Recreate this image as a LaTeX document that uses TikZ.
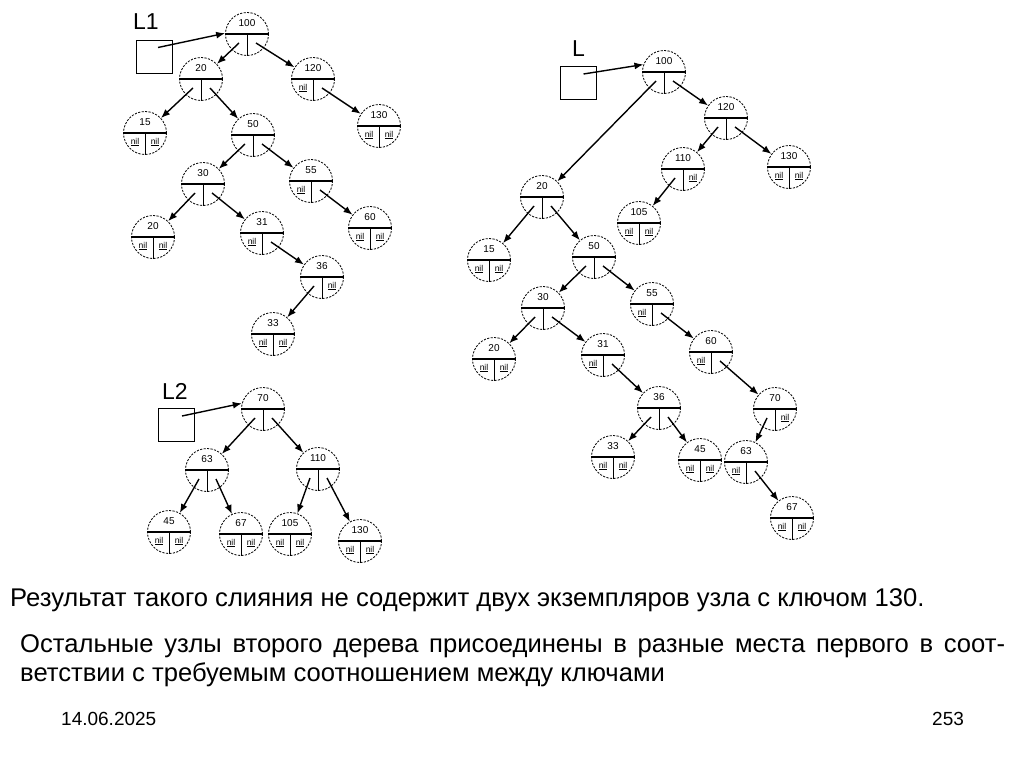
\documentclass[tikz,border=0pt]{standalone}
\usepackage{fontspec}
\setmainfont{Liberation Sans}
\usetikzlibrary{arrows.meta}
\tikzset{
  tnode/.style={circle,draw,dash pattern=on 2.2pt off 1.3pt,line width=0.8pt,minimum size=43pt,inner sep=0pt},
  divh/.style={line width=1.1pt},
  divv/.style={line width=0.9pt},
  keytxt/.style={font=\fontsize{10}{11}\selectfont,inner sep=0pt},
  niltxt/.style={font=\fontsize{8.5}{9}\selectfont,inner sep=0pt},
  link/.style={line width=1.4pt,-{Latex[length=9pt,width=7pt]}},
  ptrbox/.style={draw,line width=0.8pt,minimum width=36pt,minimum height=33pt,inner sep=0pt},
  lbl/.style={font=\fontsize{23}{24}\selectfont,inner sep=0pt,anchor=base west},
  bodytxt/.style={font=\fontsize{25.6}{29}\selectfont,anchor=base west,inner sep=0pt},
  foot/.style={font=\fontsize{19}{22}\selectfont,anchor=base west,inner sep=0pt},
}
\newcommand{\tn}[5]{%
  \node[tnode] (#1) at (#2) {};
  \draw[divh] (#1.west) -- (#1.east);
  \draw[divv] (#1.center) -- (#1.south);
  \node[keytxt] (#1-k) at ([yshift=10.5pt]#1.center) {#3};
  \ifnum#4=1 \node[niltxt] (#1-l) at ([shift={(-10,9)}]#1.center) {\underline{nil}};\fi
  \ifnum#5=1 \node[niltxt] (#1-r) at ([shift={(10,9)}]#1.center) {\underline{nil}};\fi
}
\newcommand{\lnk}[2]{\draw[link] ([shift={(-8,9)}]#1.center) -- (#2);}
\newcommand{\rnk}[2]{\draw[link] ([shift={(9,9)}]#1.center) -- (#2);}
\begin{document}
\begin{tikzpicture}[x=1pt,y=-1pt]
\useasboundingbox (0,0) rectangle (1024,767);
% ---- L1 tree
\tn{a100}{247,34}{100}{0}{0}
\tn{a20}{201,79}{20}{0}{0}
\tn{a120}{313,79}{120}{1}{0}
\tn{a15}{145,133}{15}{1}{1}
\tn{a50}{253,135}{50}{0}{0}
\tn{a130}{379,126}{130}{1}{1}
\tn{a30}{203,184}{30}{0}{0}
\tn{a55}{311,181}{55}{1}{0}
\tn{a20b}{153,237}{20}{1}{1}
\tn{a31}{262,233}{31}{1}{0}
\tn{a60}{370,228}{60}{1}{1}
\tn{a36}{322,277}{36}{0}{1}
\tn{a33}{273,334}{33}{1}{1}
\lnk{a100}{a20}\rnk{a100}{a120}
\lnk{a20}{a15}\rnk{a20}{a50}
\rnk{a120}{a130}
\lnk{a50}{a30}\rnk{a50}{a55}
\lnk{a30}{a20b}\rnk{a30}{a31}
\rnk{a55}{a60}
\rnk{a31}{a36}
\lnk{a36}{a33}
\node[lbl] (L1t) at (133,30) {L1};
\node[ptrbox] (L1b) at (154,56.5) {};
\draw[link] ([shift={(4,-9)}]L1b.center) -- (a100.178);
% ---- L2 tree
\tn{b70}{263,409}{70}{0}{0}
\tn{b63}{207,470}{63}{0}{0}
\tn{b110}{318,469}{110}{0}{0}
\tn{b45}{169,532}{45}{1}{1}
\tn{b67}{241,534}{67}{1}{1}
\tn{b105}{290,534}{105}{1}{1}
\tn{b130}{360,541}{130}{1}{1}
\lnk{b70}{b63}\rnk{b70}{b110}
\lnk{b63}{b45}\rnk{b63}{b67}
\lnk{b110}{b105}\rnk{b110}{b130}
\node[lbl] (L2t) at (162,399) {L2};
\node[ptrbox] (L2b) at (176,425) {};
\draw[link] ([shift={(6,-9)}]L2b.center) -- (b70.165);
% ---- L tree
\tn{c100}{664,72}{100}{0}{0}
\tn{c120}{726,118}{120}{0}{0}
\tn{c110}{683,169}{110}{0}{1}
\tn{c130}{789,167}{130}{1}{1}
\tn{c20}{542,197}{20}{0}{0}
\tn{c105}{639,223}{105}{1}{1}
\tn{c15}{489,260}{15}{1}{1}
\tn{c50}{594,257}{50}{0}{0}
\tn{c30}{543,308}{30}{0}{0}
\tn{c55}{652,304}{55}{1}{0}
\tn{c20b}{494,359}{20}{1}{1}
\tn{c31}{603,355}{31}{1}{0}
\tn{c60}{711,352}{60}{1}{0}
\tn{c36}{659,408}{36}{0}{0}
\tn{c70}{775,409}{70}{0}{1}
\tn{c33}{613,457}{33}{1}{1}
\tn{c45}{700,460}{45}{1}{1}
\tn{c63}{746,462}{63}{1}{0}
\tn{c67}{792,518}{67}{1}{1}
\lnk{c100}{c20}\rnk{c100}{c120}
\lnk{c120}{c110}\rnk{c120}{c130}
\lnk{c110}{c105}
\lnk{c20}{c15}\rnk{c20}{c50}
\lnk{c50}{c30}\rnk{c50}{c55}
\lnk{c30}{c20b}\rnk{c30}{c31}
\rnk{c55}{c60}
\rnk{c31}{c36}
\rnk{c60}{c70}
\lnk{c36}{c33}\rnk{c36}{c45}
\lnk{c70}{c63}
\rnk{c63}{c67}
\node[lbl] (Lt) at (572,57) {L};
\node[ptrbox] (Lb) at (578.5,83) {};
\draw[link] ([shift={(5,-9)}]Lb.center) -- (c100.160);
% ---- text
\node[bodytxt] (t1) at (10,606)
  {Результат такого слияния не содержит двух экземпляров узла с ключом 130.};
\node[bodytxt] (t2) at (20,652)
  {\makebox[985pt][s]{Остальные узлы второго дерева присоединены в разные места первого в соот-}};
\node[bodytxt] (t3) at (20,681)
  {ветствии с требуемым соотношением между ключами};
\node[foot] (date) at (61,725) {14.06.2025};
\node[foot] (page) at (932,725) {253};
\end{tikzpicture}
\end{document}
